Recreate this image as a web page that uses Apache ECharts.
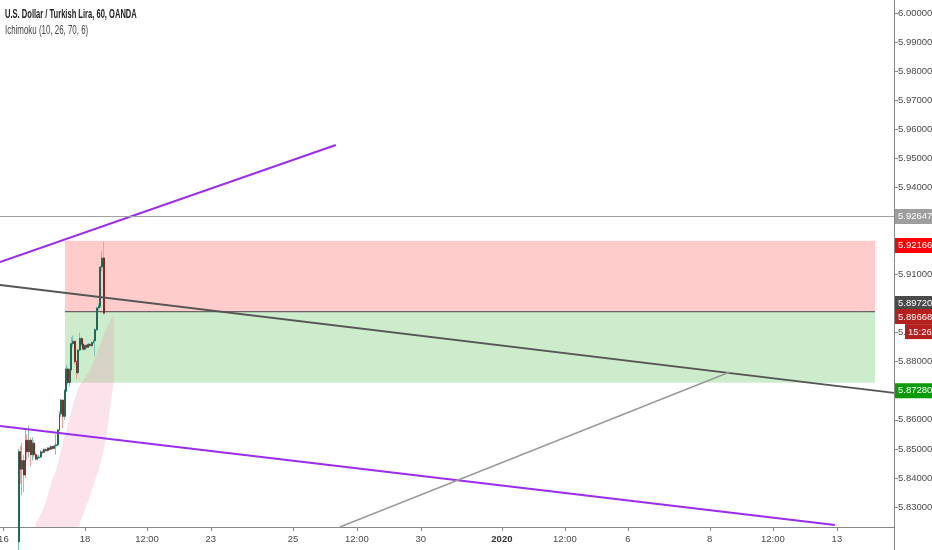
<!DOCTYPE html>
<html>
<head>
<meta charset="utf-8">
<script src="https://cdn.jsdelivr.net/npm/echarts@6/dist/echarts.min.js"></script>
<style>
html,body{margin:0;padding:0;background:#fff;}
#main{width:932px;height:550px;}
</style>
</head>
<body>
<div id="main"></div>
<script>
// ---------- DATA ----------
const titleText = 'U.S. Dollar / Turkish Lira, 60, OANDA';
const subTitleText = 'Ichimoku (10, 26, 70, 6)';

// hourly bars (x = bar index)
const barIdx = [11,12,13,14,15,16,17,18,19,20,21,22,23,24,25,26,27,28,29,30,31,32,33,34,35,36,37,38,39,40,41,42,43,44,45,46,47,48,49,50,51,52,53,54,55,56,57,58,59,60,61];
const opens  = [5.8180,5.8490,5.8430,5.8460,5.8410,5.8530,5.8490,5.8530,5.8480,5.8520,5.8480,5.8465,5.8470,5.8472,5.8490,5.8488,5.8498,5.8494,5.8503,5.8499,5.8508,5.8502,5.8510,5.8514,5.8565,5.8620,5.8668,5.8612,5.8700,5.8775,5.8728,5.8772,5.8862,5.8870,5.8800,5.8762,5.8840,5.8880,5.8860,5.8843,5.8856,5.8850,5.8860,5.8855,5.8866,5.8872,5.8910,5.8985,5.8992,5.9126,5.9157];
const closes = [5.8490,5.8430,5.8460,5.8410,5.8530,5.8490,5.8530,5.8480,5.8520,5.8480,5.8465,5.8470,5.8472,5.8490,5.8488,5.8498,5.8494,5.8503,5.8499,5.8508,5.8502,5.8510,5.8514,5.8565,5.8620,5.8668,5.8612,5.8700,5.8775,5.8728,5.8772,5.8862,5.8870,5.8800,5.8762,5.8840,5.8880,5.8860,5.8843,5.8856,5.8850,5.8860,5.8855,5.8866,5.8872,5.8910,5.8985,5.8992,5.9126,5.9157,5.89668];
const lows   = [5.8150,5.8380,5.8340,5.8350,5.8400,5.8460,5.8470,5.8440,5.8460,5.8470,5.8460,5.8460,5.8465,5.8468,5.8484,5.8485,5.8490,5.8490,5.8495,5.8496,5.8498,5.8500,5.8480,5.8510,5.8560,5.8610,5.8572,5.8600,5.8695,5.8720,5.8715,5.8768,5.8850,5.8790,5.8740,5.8755,5.8835,5.8852,5.8838,5.8840,5.8846,5.8847,5.8850,5.8852,5.8860,5.8820,5.8905,5.8975,5.8985,5.9110,5.8962];
const highs  = [5.8500,5.8510,5.8520,5.8480,5.8570,5.8550,5.8580,5.8540,5.8540,5.8530,5.8490,5.8478,5.8480,5.8495,5.8496,5.8502,5.8502,5.8506,5.8507,5.8512,5.8511,5.8514,5.8550,5.8570,5.8630,5.8672,5.8670,5.8706,5.8790,5.8780,5.8778,5.8885,5.8890,5.8875,5.8805,5.8845,5.8900,5.8885,5.8865,5.8860,5.8860,5.8864,5.8863,5.8870,5.8878,5.8915,5.8990,5.9000,5.9130,5.9180,5.9214];

// Ichimoku cloud (upper / lower edge)
const cloudIdx    = [21,23,25,27,29,31,33,35,37,39,41,43,45,47,49,51,53,55,57,59,61,63,65,67];
const cloudTop    = [5.8245,5.8262,5.8288,5.8317,5.8359,5.8399,5.8427,5.8474,5.8523,5.8562,5.8607,5.8656,5.8690,5.8720,5.8737,5.8754,5.8771,5.8801,5.8830,5.8860,5.8889,5.8919,5.8944,5.8961];
const cloudBottom = [5.8150,5.8150,5.8150,5.8150,5.8150,5.8150,5.8150,5.8150,5.8150,5.8150,5.8150,5.8150,5.8150,5.8247,5.8276,5.8307,5.8340,5.8375,5.8411,5.8449,5.8497,5.8558,5.8651,5.8737];

// drawings
const upperPurple = [[0, 5.91431], [197.6, 5.95458]];
const lowerPurple = [[0, 5.85788], [491.2, 5.82381]];
const darkTrend   = [[0, 5.9064], [526, 5.86924]];
const grayTrend   = [[200, 5.82312], [429.4, 5.87646]];

// short position tool
const boxStart = 38.2, boxEnd = 514.8;
const entryPrice = 5.8972, stopPrice = 5.92166, targetPrice = 5.8728;
const lastPrice = 5.89668, hLinePrice = 5.92647;
const countdown = '15:26';

// axes
const yMin = 5.82312, yMax = 6.00447;
const yTicks = [5.83,5.84,5.85,5.86,5.87,5.88,5.89,5.90,5.91,5.92,5.93,5.94,5.95,5.96,5.97,5.98,5.99,6.00];
const xMin = 0, xMax = 526;
const xTickPos = [2, 50, 86.5, 124, 172.4, 210, 247.6, 295.3, 332.4, 369.4, 417.6, 454.7, 492.4];
const xTickLabels = ['16','18','12:00','23','25','12:00','30','2020','12:00','6','8','12:00','13'];

// ---------- BUILD ----------
const FONT = '"Liberation Sans", Arial, sans-serif';
const AX_FS = 9.5;
const wickData = barIdx.map((x,i)=>[x, opens[i], closes[i], lows[i], highs[i]]);
const bodyData = barIdx.map((x,i)=>[x, opens[i], closes[i], Math.min(opens[i],closes[i]), Math.max(opens[i],closes[i])]);
const cloudData = cloudIdx.map((x,i)=>[x, cloudTop[i], cloudBottom[i]]);
const labelMap = {};
xTickPos.forEach((p,i)=>{ labelMap[p] = xTickLabels[i]; });

function tag(value, bg, text, padTop, padLeft) {
  const txt = text != null ? text : value.toFixed(5);
  const lab = {
    show: true, position: 'end', distance: 1,
    formatter: txt, color: '#fff', fontSize: AX_FS, fontFamily: FONT,
    backgroundColor: bg, padding: [3, 3, 2, 3]
  };
  if (padTop) {
    lab.backgroundColor = 'transparent';
    lab.padding = [padTop, 0, 0, padLeft || 0];
    lab.formatter = '{t|' + txt + '}';
    lab.rich = { t: { color: '#fff', fontSize: AX_FS, fontFamily: FONT, backgroundColor: bg, padding: [3, 3, 2, 3] } };
  }
  return { yAxis: value, lineStyle: { color: 'rgba(0,0,0,0)', width: 0 }, label: lab };
}

const chart = echarts.init(document.getElementById('main'), null, { renderer: 'canvas' });
chart.setOption({
  animation: false,
  backgroundColor: '#ffffff',
  grid: { left: 0, right: 38, top: 0, bottom: 23, containLabel: false, outerBoundsMode: 'none' },
  xAxis: {
    type: 'value', min: xMin, max: xMax,
    splitLine: { show: false },
    axisLine: { show: true, onZero: false, lineStyle: { color: '#888', width: 1 } },
    axisTick: { show: true, customValues: xTickPos, length: 4, lineStyle: { color: '#888' } },
    axisLabel: {
      customValues: xTickPos, color: '#4a4a4a', fontSize: AX_FS, fontFamily: FONT, margin: 7,
      showMinLabel: true, showMaxLabel: true, hideOverlap: false,
      formatter: v => labelMap[v] === '2020' ? '{b|2020}' : (labelMap[v] || ''),
      rich: { b: { fontWeight: 'bold', color: '#333', fontSize: AX_FS, fontFamily: FONT } }
    }
  },
  yAxis: {
    type: 'value', position: 'right', min: yMin, max: yMax,
    splitLine: { show: false },
    axisLine: { show: true, onZero: false, lineStyle: { color: '#888', width: 1 } },
    axisTick: { show: true, customValues: yTicks, length: 4, lineStyle: { color: '#888' } },
    axisLabel: {
      customValues: yTicks, color: '#4a4a4a', fontSize: AX_FS, fontFamily: FONT, margin: 4,
      hideOverlap: false,
      formatter: v => v.toFixed(5)
    }
  },
  graphic: [
    { type: 'line', shape: { x1: 894.5, y1: 527, x2: 894.5, y2: 550 }, style: { stroke: '#888', lineWidth: 1 }, silent: true },
    { type: 'text', x: 5, y: 9, scaleX: 0.63, silent: true,
      style: { text: titleText, font: 'bold 12px "Liberation Sans", Arial, sans-serif', fill: '#222' } },
    { type: 'text', x: 5, y: 25, scaleX: 0.66, silent: true,
      style: { text: subTitleText, font: '12px "Liberation Sans", Arial, sans-serif', fill: '#444' } }
  ],
  series: [
    {
      name: 'cloud', type: 'custom', data: cloudData, clip: true, z: 1, silent: true,
      encode: { x: 0, y: [1, 2] },
      renderItem: function (params, api) {
        if (params.dataIndex !== 0) return null;
        const pts = [];
        for (let i = 0; i < cloudIdx.length; i++) pts.push(api.coord([cloudIdx[i], cloudTop[i]]));
        for (let i = cloudIdx.length - 1; i >= 0; i--) pts.push(api.coord([cloudIdx[i], cloudBottom[i]]));
        return { type: 'polygon', shape: { points: pts }, style: { fill: 'rgba(244,143,177,0.25)' } };
      }
    },
    {
      name: 'position', type: 'line', data: [[boxStart, entryPrice], [boxEnd, entryPrice]],
      symbol: 'none', lineStyle: { color: '#666', width: 1.3 }, z: 3,
      markArea: {
        silent: true,
        data: [
          [{ xAxis: boxStart, yAxis: stopPrice, itemStyle: { color: 'rgba(255,0,0,0.2)' } }, { xAxis: boxEnd, yAxis: entryPrice }],
          [{ xAxis: boxStart, yAxis: entryPrice, itemStyle: { color: 'rgba(0,160,0,0.2)' } }, { xAxis: boxEnd, yAxis: targetPrice }]
        ]
      },
      markLine: {
        silent: true, symbol: ['none', 'none'], z: 10,
        data: [
          { yAxis: hLinePrice, lineStyle: { color: '#a0a0a0', width: 1, type: 'solid' },
            label: { show: true, position: 'end', distance: 1, formatter: hLinePrice.toFixed(5), color: '#fff', fontSize: AX_FS, fontFamily: FONT, backgroundColor: '#9e9e9e', padding: [3,3,2,3] } },
          tag(stopPrice, '#ff0000'),
          tag(entryPrice, '#4a4a4a'),
          tag(targetPrice, '#089c08'),
          tag(lastPrice, '#b5201f', null, 26, 0),
          tag(lastPrice, '#b5201f', countdown, 56, 10)
        ]
      }
    },
    {
      name: 'wicks', type: 'candlestick', data: wickData, barWidth: 1.2, z: 4, clip: true,
      encode: { x: 0, y: [1, 2, 3, 4] },
      itemStyle: { color: '#7cc4b8', color0: '#f3a0a0', borderColor: '#7cc4b8', borderColor0: '#f3a0a0', borderWidth: 1 }
    },
    {
      name: 'bodies', type: 'candlestick', data: bodyData, barWidth: 1.4, z: 5, clip: true,
      encode: { x: 0, y: [1, 2, 3, 4] },
      itemStyle: { color: '#1c6b57', color0: '#8e2525', borderColor: '#1c6b57', borderColor0: '#8e2525', borderWidth: 1 }
    },
    { name: 'upperPurple', type: 'line', data: upperPurple, symbol: 'none', lineStyle: { color: '#9b2cf0', width: 2 }, z: 6 },
    { name: 'lowerPurple', type: 'line', data: lowerPurple, symbol: 'none', lineStyle: { color: '#9b2cf0', width: 2 }, z: 6 },
    { name: 'darkTrend', type: 'line', data: darkTrend, symbol: 'none', lineStyle: { color: '#555', width: 1.8 }, z: 6 },
    { name: 'grayTrend', type: 'line', data: grayTrend, symbol: 'none', lineStyle: { color: '#9a9a9a', width: 1.5 }, z: 6 }
  ]
});
</script>
</body>
</html>
